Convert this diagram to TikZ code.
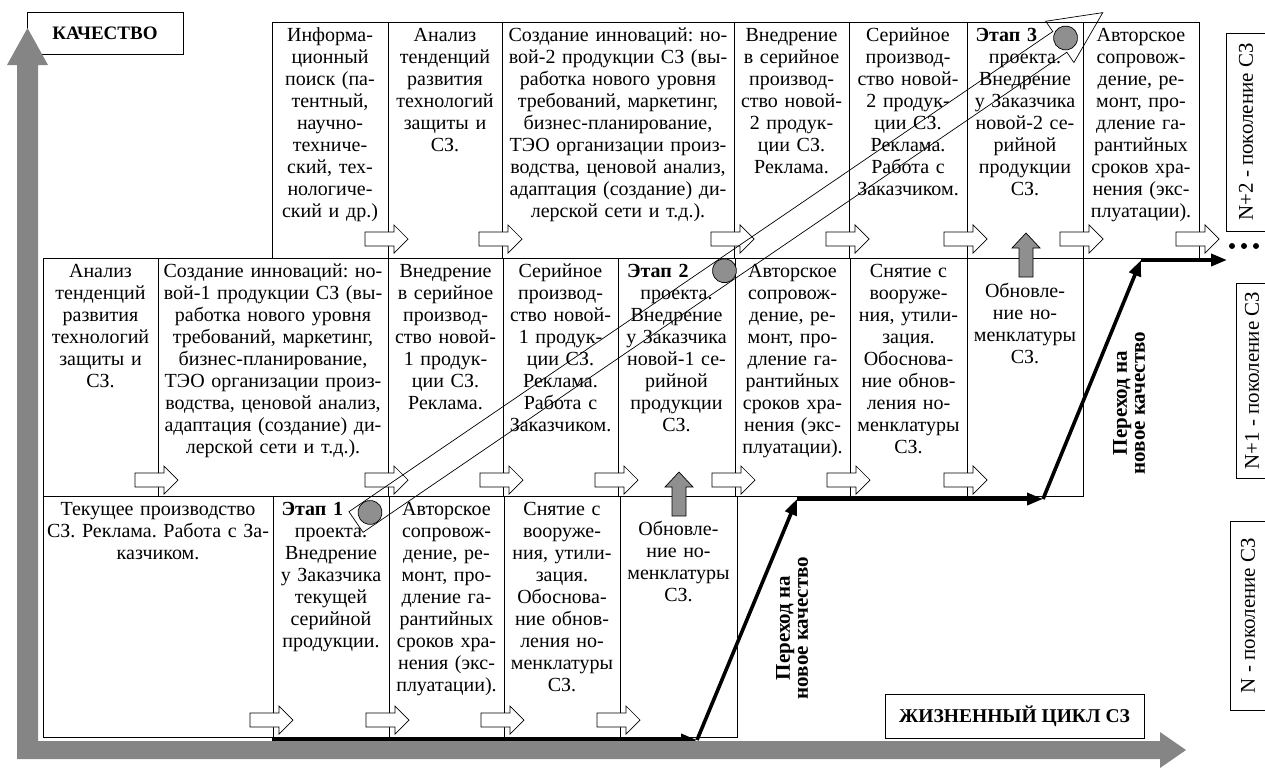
\documentclass[tikz,border=0pt]{standalone}
\usepackage{fontspec}
\setmainfont{Liberation Serif}
\usetikzlibrary{arrows.meta}
\definecolor{axisgray}{gray}{0.52}
\definecolor{markgray}{gray}{0.56}
% first line of a cell: bold stage title pushed to the left
\newcommand\stagehead[1]{\hspace*{6pt}\textbf{#1}\hskip0pt plus 1filll\null\\}
\frenchspacing
\begin{document}
\begin{tikzpicture}[x=1pt,y=-1pt,
  rule/.style={line width=0.7pt},
  txt/.style={anchor=north, inner sep=0pt, align=center, text width=#1,
    font=\fontsize{20}{22}\selectfont, execute at begin node=\strut},
  txt/.default=111pt,
  label/.style={draw, line width=0.7pt, fill=white, inner sep=0pt},
  turn/.style={rotate=90, align=center, inner sep=0pt,
    font=\bfseries\fontsize{21}{18}\selectfont},
  path/.style={line width=3.6pt, -{Triangle[length=16pt,width=12pt]}},
  rarrow/.pic={\draw[rule, fill=white] (-23,-7) -- (6,-7) -- (6,-14) -- (20,0)
      -- (6,14) -- (6,7) -- (-23,7) -- cycle;},
  uarrow/.pic={\draw[rule, fill=markgray] (-7,44) -- (-7,15) -- (-14,15) -- (0,0)
      -- (14,15) -- (7,15) -- (7,44) -- cycle;}
]
\useasboundingbox (0,0) rectangle (1265,769);

% ---- generation N+2 (top row) ----
\draw[rule] (272,22) rectangle (1199,258);
\foreach \x in {388,502,734,849,967,1083} \draw[rule] (\x,22) -- (\x,258);
% ---- generation N+1 (middle row) ----
\draw[rule] (43,258) rectangle (1083,496);
\foreach \x in {158,388,503,618,735,850,967} \draw[rule] (\x,258) -- (\x,496);
% ---- generation N (bottom row) ----
\draw[rule] (43,496) rectangle (737,737);
\foreach \x in {273,389,504,620} \draw[rule] (\x,496) -- (\x,737);

% top row texts
\node[txt] (t1) at (330,25.6) {Информа-\\ционный\\поиск (па-\\тентный,\\научно-\\техниче-\\ский, тех-\\нологиче-\\ский и др.)};
\node[txt] (t2) at (445,25.6) {Анализ\\тенденций\\развития\\технологий\\защиты и\\СЗ.};
\node[txt=228pt] (t3) at (618,25.6) {Создание инноваций: но-\\вой-2 продукции СЗ (вы-\\работка нового уровня\\требований, маркетинг,\\бизнес-планирование,\\ТЭО организации произ-\\водства, ценовой анализ,\\адаптация (создание) ди-\\лерской сети и т.д.).};
\node[txt] (t4) at (791.5,25.6) {Внедрение\\в серийное\\производ-\\ство новой-\\2 продук-\\ции СЗ.\\Реклама.};
\node[txt] (t5) at (908,25.6) {Серийное\\производ-\\ство новой-\\2 продук-\\ции СЗ.\\Реклама.\\Работа с\\Заказчиком.};
\node[txt] (t6) at (1025,25.6) {\stagehead{Этап 3}проекта.\\Внедрение\\у Заказчика\\новой-2 се-\\рийной\\продукции\\СЗ.};
\node[txt] (t7) at (1141,25.6) {Авторское\\сопровож-\\дение, ре-\\монт, про-\\дление га-\\рантийных\\сроков хра-\\нения (экс-\\плуатации).};

% middle row texts
\node[txt] (m1) at (100.5,261.6) {Анализ\\тенденций\\развития\\технологий\\защиты и\\СЗ.};
\node[txt=228pt] (m2) at (273,261.6) {Создание инноваций: но-\\вой-1 продукции СЗ (вы-\\работка нового уровня\\требований, маркетинг,\\бизнес-планирование,\\ТЭО организации произ-\\водства, ценовой анализ,\\адаптация (создание) ди-\\лерской сети и т.д.).};
\node[txt] (m3) at (445.5,261.6) {Внедрение\\в серийное\\производ-\\ство новой-\\1 продук-\\ции СЗ.\\Реклама.};
\node[txt] (m4) at (560.5,261.6) {Серийное\\производ-\\ство новой-\\1 продук-\\ции СЗ.\\Реклама.\\Работа с\\Заказчиком.};
\node[txt] (m5) at (676.5,261.6) {\stagehead{Этап 2}проекта.\\Внедрение\\у Заказчика\\новой-1 се-\\рийной\\продукции\\СЗ.};
\node[txt] (m6) at (792.5,261.6) {Авторское\\сопровож-\\дение, ре-\\монт, про-\\дление га-\\рантийных\\сроков хра-\\нения (экс-\\плуатации).};
\node[txt] (m7) at (908.5,261.6) {Снятие с\\вооруже-\\ния, утили-\\зация.\\Обоснова-\\ние обнов-\\ления но-\\менклатуры\\СЗ.};
\node[txt] (m8) at (1025,281.6) {Обновле-\\ние но-\\менклатуры\\СЗ.};

% bottom row texts
\node[txt=228pt] (b1) at (158,499.6) {Текущее производство\\СЗ. Реклама. Работа с За-\\казчиком.};
\node[txt] (b2) at (331,499.6) {\stagehead{Этап 1}проекта.\\Внедрение\\у Заказчика\\текущей\\серийной\\продукции.};
\node[txt] (b3) at (446.5,499.6) {Авторское\\сопровож-\\дение, ре-\\монт, про-\\дление га-\\рантийных\\сроков хра-\\нения (экс-\\плуатации).};
\node[txt] (b4) at (562,499.6) {Снятие с\\вооруже-\\ния, утили-\\зация.\\Обоснова-\\ние обнов-\\ления но-\\менклатуры\\СЗ.};
\node[txt] (b5) at (678.5,519.6) {Обновле-\\ние но-\\менклатуры\\СЗ.};

% hand-over arrows between stages
\foreach \x in {388,502,734,849,967,1083,1199} \pic at (\x,239) {rarrow};
\foreach \x in {158,388,503,618,735,850,967} \pic at (\x,480) {rarrow};
\foreach \x in {273,389,504,620} \pic at (\x,720) {rarrow};
% nomenclature renewal feeds the next generation
\pic at (679,472) {uarrow};
\pic at (1026,233) {uarrow};

% quality staircase
\coordinate (p0) at (272,740);
\coordinate (p1) at (697,740);
\coordinate (p2) at (797,499);
\coordinate (p3) at (1043,499);
\coordinate (p4) at (1141,260);
\coordinate (p5) at (1227,260);
\draw[path] (p0) -- (p1);
\draw[path] (p1) -- (p2);
\draw[path] (p2) -- (p3);
\draw[path] (p3) -- (p4);
\draw[path] (p4) -- (p5);
\foreach \x in {1232,1244,1256} \fill (\x,246) circle (3pt);

% project stages arrow
\begin{scope}[shift={(356,522)}, rotate=34.3]
  \draw[rule] (0,-12.5) -- (852,-12.5) -- (852,-25) -- (904,0) -- (852,25)
     -- (852,12.5) -- (0,12.5) -- cycle;
  \foreach \d in {17,446,859} \draw[rule, fill=markgray] (\d,0) circle (12pt);
\end{scope}

% transition labels
\node[turn] (q1) at (792,628) {Переход на\\новое качество};
\node[turn] (q2) at (1129,403) {Переход на\\новое качество};

% generation labels
\node[label, rotate=90, minimum width=198pt, minimum height=40pt,
  font=\fontsize{21}{22}\selectfont] (g2) at (1246,132) {N+2 - поколение СЗ};
\node[label, rotate=90, minimum width=195pt, minimum height=32pt,
  font=\fontsize{21}{22}\selectfont] (g1) at (1252,380.5) {N+1 - поколение СЗ};
\node[label, rotate=90, minimum width=189pt, minimum height=36pt,
  font=\fontsize{21}{22}\selectfont] (g0) at (1248,615.5) {N - поколение СЗ};

% axes
\node[label, minimum width=156pt, minimum height=42pt,
  font=\bfseries\fontsize{19}{22}\selectfont] (quality) at (105,33) {КАЧЕСТВО};
\fill[axisgray] (17,65) -- (7,65) -- (27.5,28) -- (48,65) -- (38,65) -- (38,741)
  -- (1160,741) -- (1160,732) -- (1186,750) -- (1160,768) -- (1160,759)
  -- (17,759) -- cycle;
\node[label, minimum width=259pt, minimum height=44pt,
  font=\bfseries\fontsize{19.5}{22}\selectfont] (cycle) at (1014.5,716) {ЖИЗНЕННЫЙ ЦИКЛ СЗ};
\end{tikzpicture}
\end{document}
